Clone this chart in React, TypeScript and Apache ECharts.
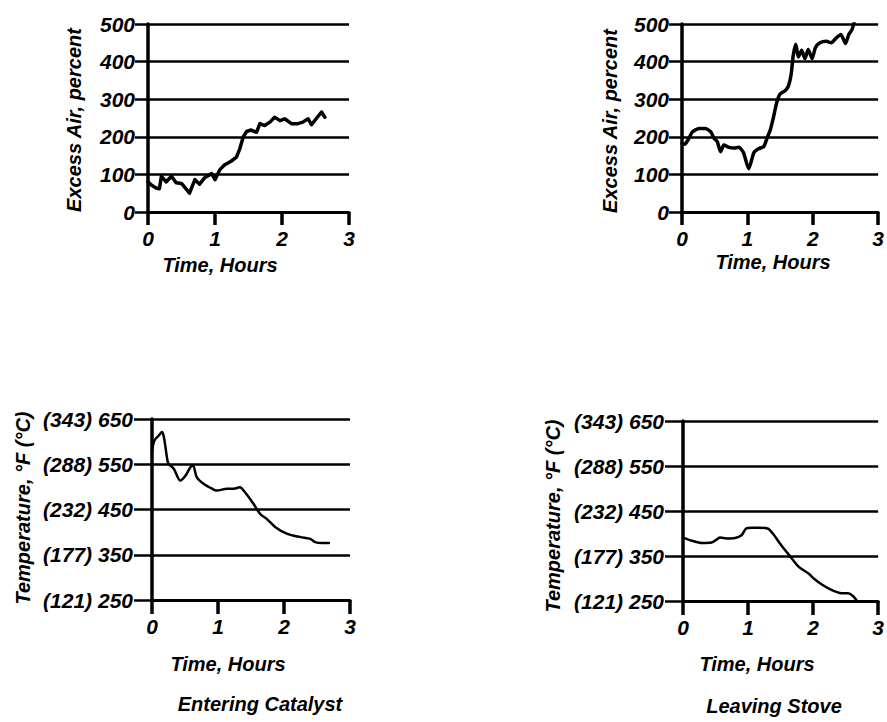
import React, { useEffect, useRef } from "react";
import * as echarts from "echarts";

// ---- Data (hours, values) ----
const enteringAirTime = [0, 0.05, 0.12, 0.17, 0.2, 0.27, 0.35, 0.42, 0.5, 0.62, 0.7, 0.77, 0.85, 0.95, 1.0, 1.07, 1.14, 1.24, 1.32, 1.37, 1.42, 1.47, 1.54, 1.62, 1.67, 1.74, 1.82, 1.89, 1.97, 2.04, 2.14, 2.24, 2.31, 2.39, 2.44, 2.51, 2.59, 2.64];
const enteringAirValues = [80, 72, 64, 62, 95, 80, 95, 78, 76, 50, 86, 74, 92, 102, 86, 112, 125, 135, 146, 168, 199, 214, 218, 212, 235, 230, 239, 252, 243, 248, 235, 235, 239, 248, 232, 248, 266, 252];

const leavingAirTime = [0, 0.04, 0.09, 0.16, 0.26, 0.36, 0.44, 0.49, 0.54, 0.59, 0.64, 0.72, 0.79, 0.87, 0.94, 1.02, 1.1, 1.17, 1.25, 1.3, 1.35, 1.4, 1.45, 1.5, 1.58, 1.63, 1.67, 1.7, 1.74, 1.78, 1.83, 1.88, 1.93, 1.99, 2.04, 2.11, 2.21, 2.28, 2.36, 2.43, 2.5, 2.55, 2.6, 2.63];
const leavingAirValues = [183, 180, 191, 213, 222, 222, 213, 196, 187, 160, 178, 172, 170, 172, 158, 115, 158, 168, 174, 196, 218, 253, 292, 314, 323, 336, 367, 415, 446, 412, 430, 408, 432, 408, 437, 450, 454, 450, 463, 472, 448, 472, 485, 503];

const enteringTempTime = [0, 0.035, 0.1, 0.15, 0.18, 0.23, 0.25, 0.33, 0.43, 0.51, 0.58, 0.62, 0.68, 0.78, 0.91, 0.98, 1.14, 1.24, 1.33, 1.41, 1.54, 1.64, 1.74, 1.87, 2.05, 2.25, 2.4, 2.47, 2.58, 2.68];
const enteringTempValues = [578, 602, 613, 621, 610, 562, 551, 540, 514, 525, 543, 547, 521, 507, 496, 492, 496, 496, 499, 488, 462, 440, 429, 411, 396, 389, 385, 378, 376, 376];

const leavingTempTime = [0, 0.14, 0.29, 0.44, 0.52, 0.57, 0.67, 0.8, 0.9, 0.97, 1.05, 1.15, 1.3, 1.38, 1.51, 1.66, 1.78, 1.93, 2.01, 2.14, 2.29, 2.41, 2.54, 2.62, 2.67];
const leavingTempValues = [391, 384, 379, 380, 387, 391, 389, 390, 396, 411, 413, 413, 411, 400, 374, 347, 326, 311, 300, 286, 274, 268, 267, 260, 251];

// ---- Tick labels ----
const timeTicks = [0, 1, 2, 3];
const airTicks = [0, 100, 200, 300, 400, 500];
const tempFTicks = [250, 350, 450, 550, 650];
const tempCTicks = [121, 177, 232, 288, 343];

const FONT = '"Liberation Sans", Arial, Helvetica, sans-serif';

const zip = (t: number[], v: number[]) => t.map((x, i) => [x, v[i]]);

const labelStyle = {
  color: "#000",
  fontFamily: FONT,
  fontStyle: "italic" as const,
  fontWeight: "bold" as const,
  fontSize: 21,
};

function makeX(gridIndex: number, tickLen: number) {
  return {
    type: "value",
    gridIndex,
    min: timeTicks[0],
    max: timeTicks[timeTicks.length - 1],
    interval: 1,
    axisLine: { show: true, onZero: false, lineStyle: { color: "#000", width: 3 } },
    axisTick: { show: true, length: tickLen, lineStyle: { color: "#000", width: 3.5 } },
    axisLabel: { ...labelStyle, margin: 16 },
    splitLine: { show: false },
  };
}

function makeY(gridIndex: number, ticks: number[], tickLen: number, margin: number, formatter?: (v: number) => string) {
  return {
    type: "value",
    gridIndex,
    min: ticks[0],
    max: ticks[ticks.length - 1],
    interval: ticks[1] - ticks[0],
    axisLine: { show: true, onZero: false, lineStyle: { color: "#000", width: 3.5 } },
    axisTick: { show: true, length: tickLen, lineStyle: { color: "#000", width: 2.5 } },
    axisLabel: { ...labelStyle, margin, formatter: formatter || ((v: number) => String(v)) },
    splitLine: { show: true, lineStyle: { color: "#000", width: 2.5 } },
  };
}

const tempFormatter = (v: number) => {
  const i = tempFTicks.indexOf(v);
  return i >= 0 ? `(${tempCTicks[i]}) ${v}` : String(v);
};

function txt(text: string, x: number, y: number, rotate = false) {
  return {
    type: "text",
    x,
    y,
    rotation: rotate ? Math.PI / 2 : 0,
    style: {
      text,
      fill: "#000",
      fontFamily: FONT,
      fontStyle: "italic",
      fontWeight: "bold",
      fontSize: 20,
      align: "center",
      verticalAlign: "middle",
    },
  };
}

export default function App() {
  const ref = useRef<HTMLDivElement>(null);
  useEffect(() => {
    if (!ref.current) return;
    const chart = echarts.init(ref.current, undefined, { renderer: "svg" });
    const line = (xi: number, data: number[][], width: number, smooth: number | boolean) => ({
      type: "line",
      xAxisIndex: xi,
      yAxisIndex: xi,
      data,
      symbol: "none",
      smooth,
      lineStyle: { color: "#000", width, join: "round", cap: "round" },
      itemStyle: { color: "#000" },
    });
    chart.setOption({
      animation: false,
      backgroundColor: "#fff",
      grid: [
        { left: 148, top: 24, width: 201, height: 188 },
        { left: 682, top: 24, width: 199, height: 188 },
        { left: 152, top: 419, width: 198, height: 181 },
        { left: 683, top: 421, width: 199, height: 180 },
      ],
      xAxis: [makeX(0, 13), makeX(1, 13), makeX(2, 14), makeX(3, 14)],
      yAxis: [
        makeY(0, airTicks, 13, 13),
        makeY(1, airTicks, 13, 13),
        makeY(2, tempFTicks, 18, 19, tempFormatter),
        makeY(3, tempFTicks, 18, 19, tempFormatter),
      ],
      series: [
        line(0, zip(enteringAirTime, enteringAirValues), 3.5, false),
        line(1, zip(leavingAirTime, leavingAirValues), 3.5, 0.2),
        line(2, zip(enteringTempTime, enteringTempValues), 2.5, 0.3),
        line(3, zip(leavingTempTime, leavingTempValues), 2.5, 0.3),
      ],
      graphic: [
        txt("Time, Hours", 220, 265),
        txt("Time, Hours", 773, 262),
        txt("Time, Hours", 228, 664),
        txt("Time, Hours", 757, 664),
        txt("Entering Catalyst", 260, 704),
        txt("Leaving Stove", 774, 706),
        txt("Excess Air, percent", 74, 120, true),
        txt("Excess Air, percent", 610, 121, true),
        txt("Temperature, °F (°C)", 23, 508, true),
        txt("Temperature, °F (°C)", 553, 516, true),
      ],
    });
    return () => chart.dispose();
  }, []);
  return (
    <div
      ref={ref}
      style={{ position: "absolute", left: 0, top: 0, width: 887, height: 722, background: "#fff" }}
    />
  );
}
